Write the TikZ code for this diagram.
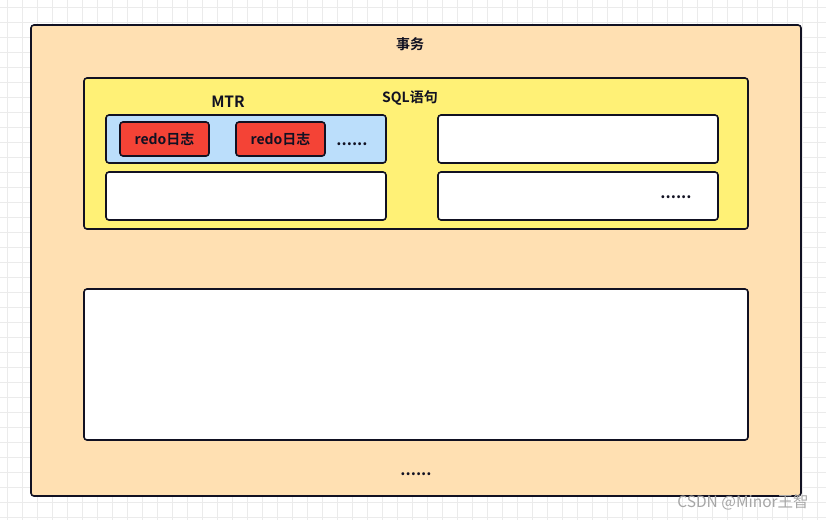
\documentclass[tikz,border=0pt]{standalone}
\usepackage{fontspec}
\setmainfont{Noto Sans CJK SC}[BoldFont={* Bold}]
\newfontfamily\wmfont{Noto Sans CJK SC}
\definecolor{outerc}{HTML}{FFE0B2}
\definecolor{yellowc}{HTML}{FFF176}
\definecolor{bluec}{HTML}{BBDEFB}
\definecolor{redc}{HTML}{F44336}
\definecolor{gridc}{HTML}{EBEBEB}
\definecolor{linec}{HTML}{111122}
\begin{document}
\begin{tikzpicture}[x=1pt,y=-1pt,
  box/.style={draw=linec,line width=1.6pt,rounded corners=3pt},
  lbl/.style={font=\bfseries\fontsize{14}{16}\selectfont,text=linec,inner sep=0pt},
  dots/.style={font=\bfseries\fontsize{16}{18}\selectfont,text=linec,inner sep=0pt}]
\useasboundingbox (0,0) rectangle (826,520);
\fill[white] (0,0) rectangle (826,520);
\foreach \x in {7,22,...,826} \draw[gridc,line width=0.6pt] (\x,0) -- (\x,520);
\foreach \y in {7,22,...,520} \draw[gridc,line width=0.6pt] (0,\y) -- (826,\y);
% outer
\draw[box,fill=outerc] (31,25) rectangle (801,496);
\node[lbl] (t1) at (410,44) {事务};
% yellow
\draw[box,fill=yellowc] (84,78) rectangle (748,229);
\node[lbl] (t2) at (410,98) {SQL语句};
\node[lbl,font=\bfseries\fontsize{15.5}{18}\selectfont] (t3) at (228,102) {MTR};
\draw[box,fill=bluec] (106,115) rectangle (386,163);
\draw[box,fill=redc] (120,122) rectangle (209,156);
\node[lbl] (r1) at (164.5,139) {redo日志};
\draw[box,fill=redc] (236,122) rectangle (325,156);
\node[lbl] (r2) at (280.5,139) {redo日志};
\node[dots] (d1) at (352,144) {......};
\draw[box,fill=white] (438,115) rectangle (718,163);
\draw[box,fill=white] (106,172) rectangle (386,220);
\draw[box,fill=white] (438,172) rectangle (718,220);
\node[dots] (d2) at (676,197) {......};
% big box
\draw[box,fill=white] (84,289) rectangle (748,440);
\node[dots] (d3) at (416,474) {......};
\node[font=\wmfont\fontsize{15.5}{18}\selectfont,text=black!35,inner sep=0pt] (wm) at (743,502) {CSDN @Minor王智};
\end{tikzpicture}
\end{document}
